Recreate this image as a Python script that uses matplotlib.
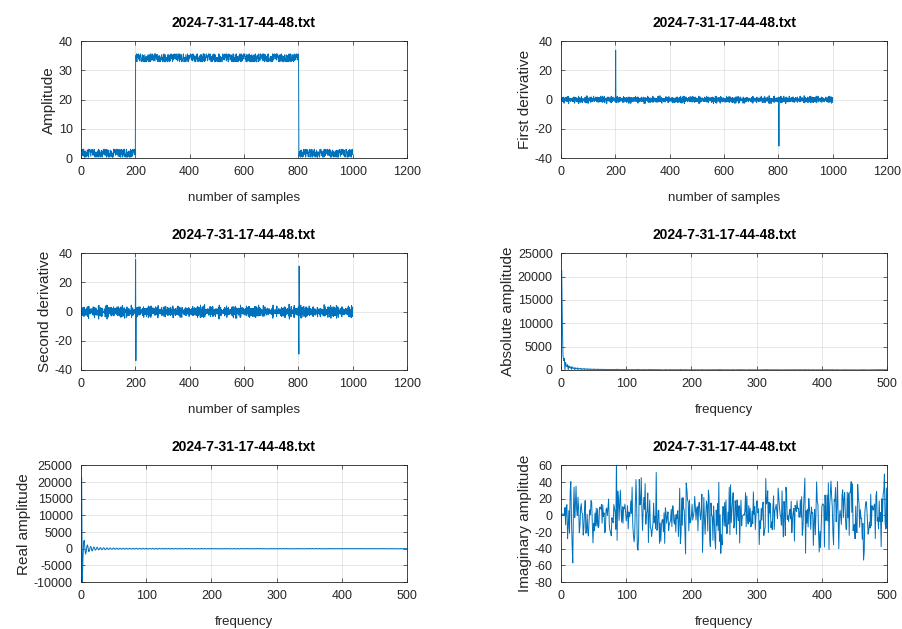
import numpy as np
import matplotlib.pyplot as plt

plt.rcParams['font.family'] = ['Liberation Sans', 'DejaVu Sans']
plt.rcParams['axes.unicode_minus'] = False

# ---- data -------------------------------------------------------------
file_name = "2024-7-31-17-44-48.txt"
n_samples = 1000
edge_up = 200       # first sample of the high level
edge_down = 800     # last sample of the high level
low_level = 0.3
high_level = 33.0
noise_step = 0.3    # one noise digit = 0.3 amplitude units

# noise read as digits 0..9, one per sample
noise_digits = """
8695273969 1302741052 5184629037 7968514786 9572866391 2041635102 4719058326 0321847013 6897354928 3560917248
0214306825 1735020419 7958642897 8396571649 4162083957 6085397219 2103459021 0632174003 5970826143 9786635982
6749208578 9385617796 3021582407 1205840316 0143628051 7580491635 8962775149 6419957386 2806314750 1043628510
3517902648 0432152087 1386024715 9678350824 8796483569 7825619948 4109576238 0213479501 2503186420 5981207364
7869542781 6935871460 2017483926 0413251708 3148020619 4690735128 9857613496 8772954306 5061842397 1028304512
2450319068 1406235102 6987352849 8576194638 7039868524 3871506249 0235140813 2910463052 5724918306 9861573796
8793465087 4058617293 0217304581 1602358041 3915020746 6807924153 9687543691 7596803487 2163058794 0321456210
5602918437 9784368592 8965740378 4028531967 0142603518 1320485106 7468091325 6903257841 3071946258 8596724839
0316247081 2814036519 6783590284 9478613508 7958402769 4061725893 1052378406 0124635019 5896327410 3470981625
9684573926 7852946081 3106482715 0523174608 1642083047 6894157393 8759624683 2031795640 4607382195 5128064937
"""

# ---- derived series (as in the original processing) ------------------
digits = np.array([int(c) for c in "".join(noise_digits.split())][:n_samples])
levels = np.full(n_samples, low_level)
levels[edge_up:edge_down + 1] = high_level
signal = levels + digits * noise_step

samples = np.arange(1, n_samples + 1)
d1 = np.diff(signal)
d2 = np.diff(d1)

half = n_samples // 2
spec = np.fft.fft(signal)[:half + 1]
freq = np.arange(1, half + 2)   # MATLAB style index axis

line_color = '#0072BD'
ink = '#262626'

fig = plt.figure(figsize=(9.02, 6.29), dpi=100)

left_x = [0.0898, 0.622]
width = 0.3614
rows_y = [0.7488, 0.4118, 0.0747]
height = 0.1855


def setup(ax, xlabel, ylabel, xlim, xstep, ylim, ystep):
    ax.set_title(file_name, fontsize=10, fontweight='bold', pad=10, color='black')
    ax.set_xlabel(xlabel, fontsize=9.5, color=ink, labelpad=10)
    ax.set_ylabel(ylabel, fontsize=11, color=ink, labelpad=2)
    ax.set_xlim(*xlim)
    ax.set_ylim(*ylim)
    ax.set_xticks(np.arange(xlim[0], xlim[1] + 1, xstep))
    ax.set_yticks(np.arange(ylim[0], ylim[1] + 1, ystep))
    ax.set_axisbelow(True)
    ax.grid(True, color=ink, alpha=0.15, lw=0.5)
    ax.tick_params(direction='in', length=3, width=0.5, top=True, right=True,
                   labelsize=9, colors=ink, pad=6)
    for s in ax.spines.values():
        s.set_color(ink)
        s.set_linewidth(0.6)


# row 1
ax = fig.add_axes([left_x[0], rows_y[0], width, height])
ax.plot(samples, signal, color=line_color, lw=0.7)
setup(ax, 'number of samples', 'Amplitude', (0, 1200), 200, (0, 40), 10)

ax = fig.add_axes([left_x[1], rows_y[0], width, height])
ax.plot(samples[1:], d1, color=line_color, lw=0.7)
setup(ax, 'number of samples', 'First derivative', (0, 1200), 200, (-40, 40), 20)

# row 2
ax = fig.add_axes([left_x[0], rows_y[1], width, height])
ax.plot(samples[2:], d2, color=line_color, lw=0.7)
setup(ax, 'number of samples', 'Second derivative', (0, 1200), 200, (-40, 40), 20)

ax = fig.add_axes([left_x[1], rows_y[1], width, height])
ax.plot(freq, np.abs(spec), color=line_color, lw=0.7)
setup(ax, 'frequency', 'Absolute amplitude', (0, 500), 100, (0, 25000), 5000)

# row 3
ax = fig.add_axes([left_x[0], rows_y[2], width, height])
ax.plot(freq, spec.real, color=line_color, lw=0.7)
setup(ax, 'frequency', 'Real amplitude', (0, 500), 100, (-10000, 25000), 5000)

ax = fig.add_axes([left_x[1], rows_y[2], width, height])
ax.plot(freq, spec.imag, color=line_color, lw=0.7)
setup(ax, 'frequency', 'Imaginary amplitude', (0, 500), 100, (-80, 60), 20)

plt.savefig('out.png', dpi=100)
